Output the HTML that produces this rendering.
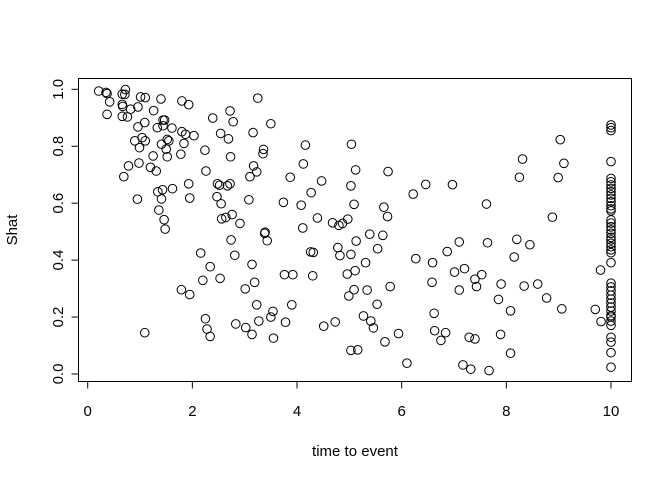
<!DOCTYPE html>
<html><head><meta charset="utf-8"><style>
html,body{margin:0;padding:0;background:#fff;}
svg{display:block;font-family:"Liberation Sans",Arial,sans-serif;}
</style></head><body>
<svg id="chart" width="672" height="480" viewBox="0 0 672 480" xmlns="http://www.w3.org/2000/svg">
<rect x="0" y="0" width="672" height="480" fill="#fff"/>
<g id="points"></g>
<g id="axes"></g>
<rect x="78.5" y="78.5" width="553" height="303" fill="none" stroke="#000" stroke-width="1"/>
<text x="355" y="456" font-size="15" text-anchor="middle">time to event</text>
<text transform="translate(17,230) rotate(-90)" font-size="15" text-anchor="middle">Shat</text>
</svg>
<script>
const xVals = [0.21,0.35,0.37,0.42,0.66,0.72,0.71,0.66,0.67,0.82,0.96,1.01,1.10,1.40,1.80,1.93,3.25,0.37,0.66,0.76,1.26,0.96,1.09,1.33,1.44,1.47,1.44,1.61,1.80,1.87,2.03,2.39,2.72,2.78,2.54,2.69,3.16,0.90,1.04,1.10,0.99,1.52,1.55,1.41,1.50,1.84,2.24,1.25,1.52,1.78,2.73,3.36,3.35,0.78,0.98,1.20,1.31,0.69,2.26,3.17,3.23,3.10,1.93,1.62,1.34,1.43,2.48,2.52,2.67,2.72,0.95,1.41,1.95,2.47,2.55,3.08,1.36,1.46,1.48,2.56,2.64,2.76,2.91,3.39,2.74,3.38,3.43,2.16,2.81,2.34,3.14,2.20,2.53,3.19,1.79,1.95,3.01,3.23,2.25,2.28,2.34,2.83,3.02,3.14,3.27,1.09,
3.50,4.16,5.04,4.12,5.12,5.74,3.87,4.47,5.03,6.46,6.97,6.22,4.27,3.74,4.08,5.09,5.66,5.73,4.39,4.68,4.80,4.87,4.97,4.11,5.39,5.64,
5.13,4.78,5.03,4.82,5.54,4.26,4.31,5.31,6.27,6.59,6.87,7.10,3.76,3.92,4.30,4.96,5.11,7.01,6.58,7.10,5.78,5.34,5.09,4.99,3.90,3.54,3.50,3.78,5.53,5.27,5.41,5.46,4.73,4.51,6.62,3.55,5.94,6.63,6.84,6.75,5.68,5.03,5.16,6.10,7.17,
7.62,8.31,8.25,9.03,9.10,8.99,8.88,7.64,8.20,8.45,8.15,7.20,7.40,7.53,7.43,7.90,8.34,8.60,7.85,8.77,8.08,9.06,9.70,9.80,9.81,7.29,7.40,7.89,8.08,7.32,7.67];
const yVals = [0.994,0.989,0.985,0.956,0.983,0.999,0.982,0.947,0.940,0.930,0.938,0.973,0.971,0.966,0.959,0.946,0.969,0.912,0.905,0.903,0.925,0.868,0.883,0.865,0.892,0.892,0.872,0.864,0.851,0.842,0.837,0.899,0.924,0.886,0.845,0.826,0.848,0.819,0.830,0.819,0.795,0.824,0.819,0.807,0.790,0.810,0.786,0.766,0.763,0.772,0.763,0.789,0.774,0.731,0.741,0.726,0.713,0.693,0.713,0.731,0.710,0.693,0.668,0.651,0.640,0.647,0.668,0.663,0.661,0.668,0.614,0.615,0.618,0.623,0.598,0.612,0.576,0.542,0.509,0.545,0.550,0.560,0.529,0.498,0.471,0.494,0.468,0.425,0.417,0.377,0.385,0.329,0.336,0.322,0.296,0.279,0.299,0.243,0.194,0.158,0.132,0.176,0.163,0.139,0.186,0.145,
0.879,0.804,0.807,0.738,0.717,0.711,0.691,0.678,0.661,0.666,0.665,0.632,0.637,0.603,0.593,0.596,0.586,0.553,0.548,0.531,0.522,0.529,0.544,0.513,0.491,0.487,
0.467,0.444,0.420,0.416,0.440,0.429,0.427,0.391,0.405,0.391,0.430,0.464,0.349,0.349,0.345,0.351,0.363,0.358,0.322,0.295,0.307,0.295,0.296,0.274,0.243,0.220,0.200,0.182,0.245,0.204,0.186,0.162,0.183,0.168,0.213,0.126,0.142,0.152,0.145,0.118,0.113,0.083,0.085,0.038,0.032,
0.597,0.755,0.691,0.823,0.740,0.690,0.551,0.461,0.473,0.454,0.411,0.370,0.333,0.349,0.307,0.316,0.309,0.316,0.262,0.267,0.222,0.229,0.227,0.365,0.184,0.129,0.123,0.139,0.073,0.017,0.012];
const censoredY = [0.875,0.865,0.855,0.746,0.687,0.675,0.664,0.652,0.640,0.629,0.617,0.605,0.591,0.580,0.573,0.541,0.530,0.517,0.506,0.494,0.480,0.471,0.459,0.447,0.436,0.426,0.391,0.319,0.306,0.292,0.277,0.263,0.249,0.235,0.221,0.205,0.200,0.186,0.171,0.129,0.112,0.075,0.024];
const censoredX = 10;
const xTicks = [0,2,4,6,8,10];
const yTicks = [0,0.2,0.4,0.6,0.8,1.0];
const yTickLabels = ["0.0","0.2","0.4","0.6","0.8","1.0"];

const NS = "http://www.w3.org/2000/svg";
function sx(v){ return 87.7 + v * 52.33; }
function sy(v){ return 374 - v * 284.7; }
const pg = document.getElementById('points');
function addPoint(x, y){
  const c = document.createElementNS(NS, 'circle');
  c.setAttribute('cx', sx(x)); c.setAttribute('cy', sy(y)); c.setAttribute('r', 4.3);
  c.setAttribute('fill', 'none'); c.setAttribute('stroke', '#000'); c.setAttribute('stroke-width', '1');
  
  
  pg.appendChild(c);
}
for (let i = 0; i < Math.min(xVals.length, yVals.length); i++) addPoint(xVals[i], yVals[i]);
censoredY.forEach(y => addPoint(censoredX, y));

const ag = document.getElementById('axes');
function line(x1,y1,x2,y2,name){
  const l = document.createElementNS(NS,'line');
  l.setAttribute('x1',x1);l.setAttribute('y1',y1);l.setAttribute('x2',x2);l.setAttribute('y2',y2);
  l.setAttribute('stroke','#000');l.setAttribute('stroke-width','1');
  
  
  ag.appendChild(l);
}
line(sx(xTicks[0]),381.5,sx(xTicks[xTicks.length-1]),381.5,'x-axis-line');
xTicks.forEach(t => {
  line(sx(t),381.5,sx(t),388.5,'x-tick');
  const tx = document.createElementNS(NS,'text');
  tx.setAttribute('x', sx(t)); tx.setAttribute('y', 416); tx.setAttribute('font-size','15'); tx.setAttribute('text-anchor','middle');
  tx.textContent = String(t);
  
  
  ag.appendChild(tx);
});
line(78.5,sy(yTicks[0]),78.5,sy(yTicks[yTicks.length-1]),'y-axis-line');
yTicks.forEach((t,i) => {
  line(71.5,sy(t),78.5,sy(t),'y-tick');
  const tx = document.createElementNS(NS,'text');
  tx.setAttribute('transform','translate(63,'+sy(t)+') rotate(-90)');
  tx.setAttribute('font-size','15'); tx.setAttribute('text-anchor','middle');
  tx.textContent = yTickLabels[i];
  
  
  ag.appendChild(tx);
});
</script>
</body></html>
